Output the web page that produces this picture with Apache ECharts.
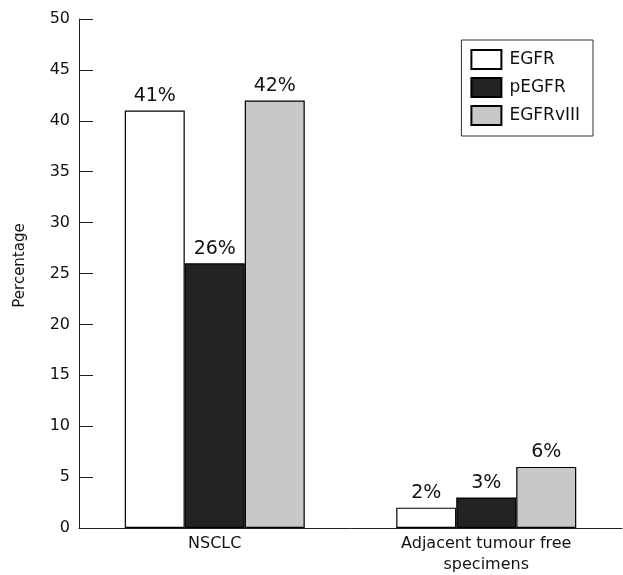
<!DOCTYPE html>
<html><head><meta charset="utf-8">
<script src="https://cdn.jsdelivr.net/npm/echarts@6/dist/echarts.min.js"></script>
<style>html,body{margin:0;padding:0;background:#fff}#c{width:623px;height:575px}</style>
</head><body><div id="c"></div>
<script>
const categories = ['NSCLC', 'Adjacent tumour free\nspecimens'];
const seriesNames = ['EGFR', 'pEGFR', 'EGFRvIII'];
const egfr = [41, 2];
const pegfr = [26, 3];
const egfrviii = [42, 6];
const yTicks = [0, 5, 10, 15, 20, 25, 30, 35, 40, 45, 50];

const font = 'DejaVu Sans';
const colors = ['#ffffff', '#232323', '#c8c8c8'];
const dataSets = [egfr, pegfr, egfrviii];

const chart = echarts.init(document.getElementById('c'));
chart.setOption({
  animation: false,
  textStyle: { fontFamily: font },
  grid: { left: 79, right: 1, top: 19, bottom: 46 },
  legend: {
    right: 30, top: 40,
    orient: 'vertical',
    itemWidth: 30, itemHeight: 19, itemGap: 7,
    padding: [9, 13, 10, 9],
    borderColor: '#333', borderWidth: 1,
    textStyle: { fontSize: 17, color: '#111', fontFamily: font, padding: [0, 0, 0, 3] },
    data: seriesNames.map(n => ({ name: n, icon: 'rect' }))
  },
  xAxis: {
    type: 'category',
    data: categories,
    axisLine: { lineStyle: { color: '#222', width: 1 } },
    axisTick: { inside: true, length: 14, lineStyle: { color: '#222' } },
    axisLabel: { fontSize: 16, color: '#111', margin: 5, lineHeight: 21, fontFamily: font }
  },
  yAxis: {
    type: 'value', min: 0, max: 50, interval: 5,
    name: 'Percentage', nameLocation: 'middle', nameGap: 51,
    nameTextStyle: { fontSize: 15, color: '#111', fontFamily: font, padding: [0, 0, 0, 16] },
    axisLine: { show: true, lineStyle: { color: '#222', width: 1 } },
    axisTick: { show: true, inside: true, length: 14, lineStyle: { color: '#222' } },
    axisLabel: { fontSize: 16, color: '#111', margin: 9, fontFamily: font,
      formatter: v => yTicks.includes(v) ? String(v) : '' },
    splitLine: { show: false }
  },
  series: seriesNames.map((n, i) => ({
    name: n, type: 'bar', data: dataSets[i],
    barWidth: 60, barGap: '0%',
    itemStyle: { color: colors[i], borderColor: '#000', borderWidth: 1.2 },
    label: { show: true, position: 'top', distance: 5, formatter: '{c}%', fontSize: 19, color: '#111', fontFamily: font }
  }))
});
</script></body></html>
